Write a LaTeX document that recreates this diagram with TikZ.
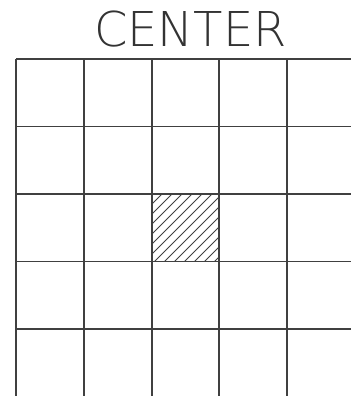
\documentclass[tikz,border=0pt]{standalone}
\usepackage{fontspec}
\setmainfont{DejaVu Sans ExtraLight}
\usetikzlibrary{positioning}

\begin{document}
\begin{tikzpicture}[
  x=1pt, y=-1pt,
  gridline/.style={draw=black!75, line width=1.3pt},
  hatchline/.style={draw=black!75, line width=0.9pt},
  titletext/.style={font=\fontsize{48}{48}\selectfont, inner sep=0pt, text=black!80}
]
\useasboundingbox (0,0) rectangle (351,396);

% === Title ===
\node[titletext] (title) at (190.5,29.5) {CENTER};

% === Grid (open to the right and bottom) ===
\foreach \gy in {59,126.5,194,261.5,329}
  \draw[gridline] (16,\gy) -- (351,\gy);
\foreach \gx in {16,84,152,219,287}
  \draw[gridline] (\gx,59) -- (\gx,396);

% === Hatched centre cell ===
\begin{scope}
  \clip (152,194) rectangle (219,261.5);
  \foreach \hx in {0,10,...,140}
    \draw[hatchline] (152-67.5+\hx,261.5) -- (152+\hx,194);
\end{scope}

\end{tikzpicture}
\end{document}
